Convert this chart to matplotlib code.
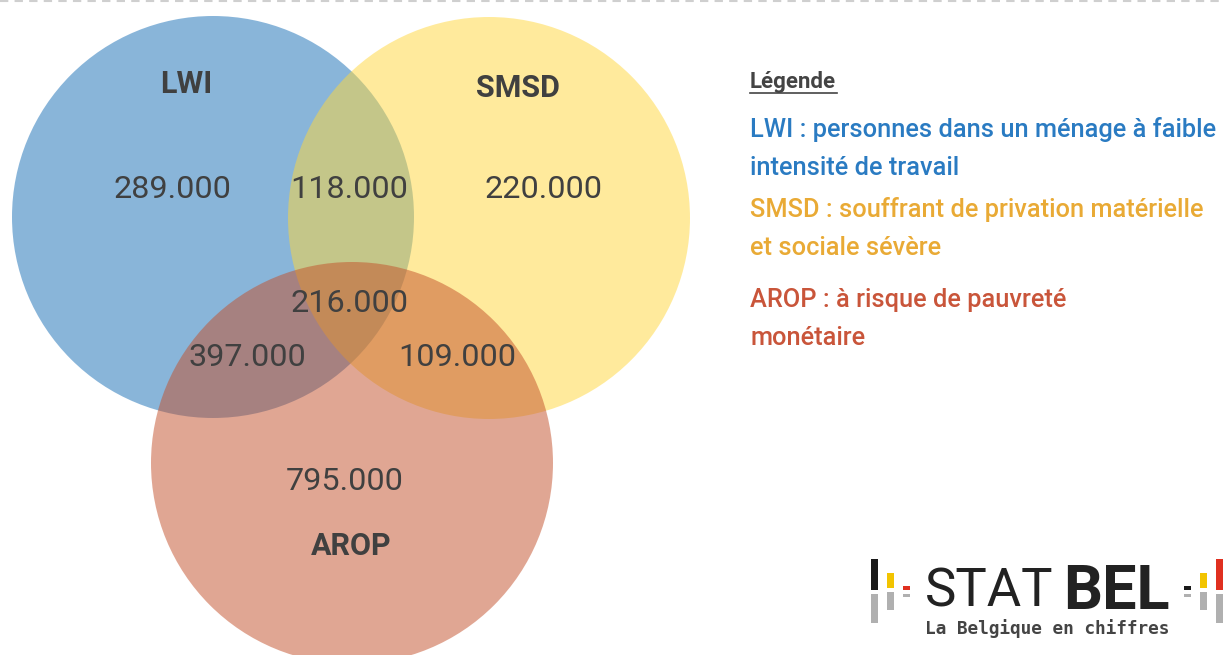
import matplotlib
matplotlib.use("Agg")
import matplotlib.pyplot as plt
from matplotlib.patches import Circle, Rectangle

plt.rcParams["font.family"] = ["Roboto", "DejaVu Sans"]

# %% Data
set_names = ["LWI", "SMSD", "AROP"]
set_colors = ["#156DB5", "#FFD73B", "#C34F29"]
region_keys = ["LWI", "SMSD", "AROP", "LWI+SMSD", "LWI+AROP", "SMSD+AROP", "ALL"]
region_values = ["289.000", "220.000", "795.000", "118.000", "397.000", "109.000", "216.000"]
legend_title = "Légende"
legend_lines = [
    ["LWI : personnes dans un ménage à faible", "intensité de travail"],
    ["SMSD : souffrant de privation matérielle", "et sociale sévère"],
    ["AROP : à risque de pauvreté", "monétaire"],
]
legend_colors = ["#2A7BC2", "#E9AA35", "#C9553A"]

# %% Layout (pixel coordinates)
W, H = 1225, 655
R = 201
centers = [(213, 217), (489, 218), (352, 463)]
name_pos = [(186, 84), (518, 88), (351, 546)]
value_pos = {
    "LWI": (172, 190), "SMSD": (543, 190), "AROP": (345, 482),
    "LWI+SMSD": (349, 189), "LWI+AROP": (247, 357),
    "SMSD+AROP": (457, 357), "ALL": (350, 304),
}
TXT = "#404040"

fig = plt.figure(figsize=(W / 100, H / 100), dpi=100)
ax = fig.add_axes([0, 0, 1, 1])
ax.set_xlim(0, W)
ax.set_ylim(H, 0)
ax.axis("off")

# dashed rule on top
ax.axhline(1, color="#cfcfcf", lw=1.5, ls=(0, (4, 3)))

for (cx, cy), col in zip(centers, set_colors):
    ax.add_patch(Circle((cx, cy), R, facecolor=col, edgecolor="none", alpha=0.5))

for name, (x, y) in zip(set_names, name_pos):
    ax.text(x, y, name, ha="center", va="center", fontsize=22, fontweight="bold", color=TXT)

for key, val in zip(region_keys, region_values):
    x, y = value_pos[key]
    ax.text(x, y, val, ha="center", va="center", fontsize=23.3, color=TXT)

# legend
ax.text(750, 82, legend_title, ha="left", va="center", fontsize=16, fontweight="bold", color="#444444")
ax.plot([750, 837], [93, 93], color="#444444", lw=1.2)
line_y = [[130, 168], [210, 248], [300, 338]]
for lines, ys, col in zip(legend_lines, line_y, legend_colors):
    for txt, y in zip(lines, ys):
        ax.text(750, y, txt, ha="left", va="center", fontsize=18.3, fontweight="medium", color=col)

# STATBEL logo
bars = [
    (871, 559, 590, "#1a1a1a", 623), (887, 573, 588, "#F2C400", 610), (903, 586, 590, "#E03020", 597),
    (1184, 586, 590, "#1a1a1a", 597), (1200, 573, 588, "#F2C400", 610), (1216, 559, 590, "#E03020", 623),
]
for x, y0, y1, col, yg in bars:
    ax.add_patch(Rectangle((x, y0), 7, y1 - y0, color=col, lw=0))
    ax.add_patch(Rectangle((x, y1 + 4), 7, yg - y1 - 4, color="#B0B0B0", lw=0))
ax.text(925, 592, "STAT", ha="left", va="center", fontsize=38, fontweight="normal", color="#222222")
ax.text(1170, 592, "BEL", ha="right", va="center", fontsize=44, fontweight="bold", color="#222222")
ax.text(1047, 629, "La Belgique en chiffres", ha="center", va="center", fontsize=12.8,
        fontweight="bold", family="DejaVu Sans Mono", color="#444444")

fig.savefig("out.png", dpi=100)
